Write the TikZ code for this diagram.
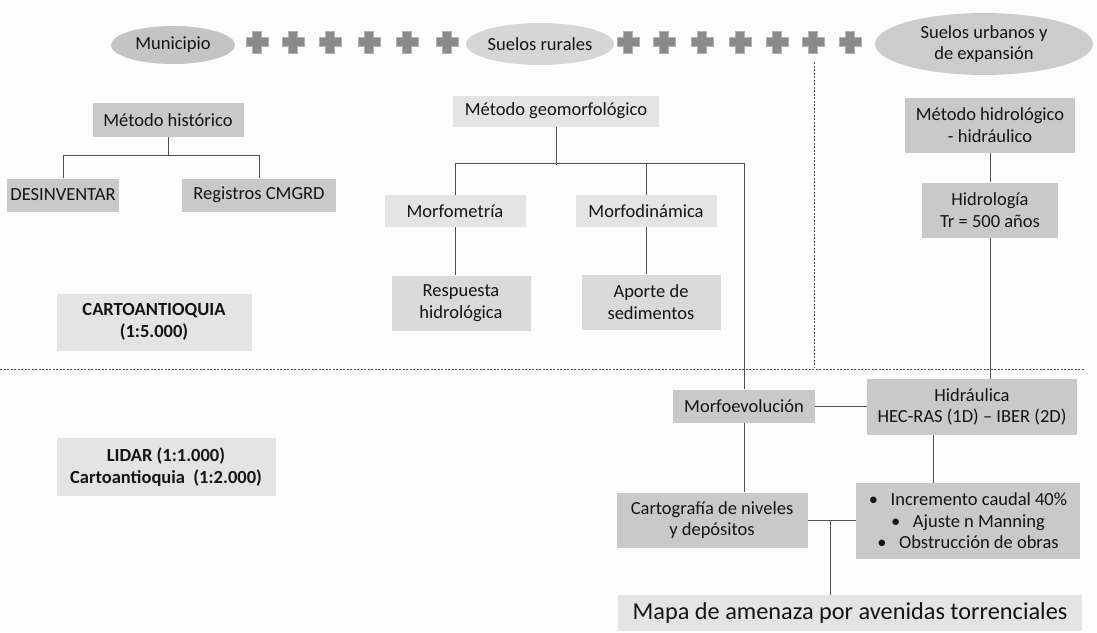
\documentclass[tikz,border=0pt]{standalone}
\usepackage{fontspec}
\setmainfont{Carlito}
\usetikzlibrary{shapes.geometric,calc}
\definecolor{bgc}{RGB}{253,253,253}
\definecolor{dbox}{RGB}{201,201,201}
\definecolor{lbox}{RGB}{228,228,228}
\definecolor{mbox}{RGB}{218,218,218}
\definecolor{ell1}{RGB}{196,196,196}
\definecolor{ell2}{RGB}{214,214,214}
\definecolor{ell3}{RGB}{204,204,204}
\definecolor{plusfill}{RGB}{138,138,138}
\definecolor{plusedge}{RGB}{178,178,178}
\definecolor{linec}{RGB}{80,80,80}
\definecolor{txt}{RGB}{20,20,20}
\tikzset{
  base/.style={inner sep=0pt, align=center, text=txt, font=\fontsize{18.5}{21.5}\selectfont},
  darkbox/.style={base, fill=dbox},
  lightbox/.style={base, fill=lbox},
  midbox/.style={base, fill=mbox},
  oval/.style={base, ellipse},
  conn/.style={draw=linec, line width=1pt},
  sep/.style={draw=linec, line width=0.8pt, dash pattern=on 2pt off 1.5pt},
}
\begin{document}
\begin{tikzpicture}[x=1pt,y=-1pt]
\fill[bgc] (0,0) rectangle (1097,632);
\useasboundingbox (0,0) rectangle (1097,632);

% separators
\draw[sep] (0,369) -- (1085,369);
\draw[sep] (814,62) -- (814,367);

% top ovals
\node[oval, fill=ell1, minimum width=124pt, minimum height=38pt] (mun) at (173,45) {Municipio};
\node[oval, fill=ell2, minimum width=126pt, minimum height=42pt] (rur) at (540,44) {Suelos rurales};
\node[oval, fill=ell3, minimum width=218pt, minimum height=62pt] (urb) at (984,44) {Suelos urbanos y\\de expansión};

% plus signs
\foreach \cx in {257,293,330,369,407,447,628,664,702,740,777,813,850}{
  \filldraw[fill=plusfill, draw=plusedge, line width=1pt]
    (\cx-4.5,31) -- (\cx+4.5,31) -- (\cx+4.5,37.5) -- (\cx+11,37.5) -- (\cx+11,46.5) -- (\cx+4.5,46.5)
    -- (\cx+4.5,53) -- (\cx-4.5,53) -- (\cx-4.5,46.5) -- (\cx-11,46.5) -- (\cx-11,37.5) -- (\cx-4.5,37.5) -- cycle;
}

% historic method
\node[darkbox, minimum width=151pt, minimum height=34pt] (hist) at (168,120) {Método histórico};
\node[darkbox, minimum width=112pt, minimum height=33pt] (desi) at (63,195) {DESINVENTAR};
\node[darkbox, minimum width=154pt, minimum height=33pt] (reg) at (259,195) {Registros CMGRD};
\node[lightbox, minimum width=195pt, minimum height=57pt, font=\fontsize{18.5}{21.5}\selectfont\bfseries] (carto) at (154,322) {CARTOANTIOQUIA\\(1:5.000)};
\node[lightbox, minimum width=219pt, minimum height=58pt, font=\fontsize{18.5}{21.5}\selectfont\bfseries] (lidar) at (166,467) {LIDAR (1:1.000)\\Cartoantioquia~~(1:2.000)};

\draw[conn] (hist.south) -- ++(0,18);
\draw[conn] (desi.north) -- ++(0,-23) -| (reg.north);

% geomorphological method
\node[lightbox, minimum width=206pt, minimum height=31pt] (geo) at (556,111) {Método geomorfológico};
\node[lightbox, minimum width=141pt, minimum height=32pt] (mfm) at (455,211) {Morfometría};
\node[lightbox, minimum width=141pt, minimum height=32pt] (mfd) at (646,211) {Morfodinámica};
\node[midbox, minimum width=139pt, minimum height=55pt] (resp) at (461,303) {Respuesta\\hidrológica};
\node[midbox, minimum width=139pt, minimum height=55pt] (apo) at (651,302) {Aporte de\\sedimentos};
\node[darkbox, minimum width=142pt, minimum height=33pt] (mev) at (744,406) {Morfoevolución};
\node[darkbox, minimum width=191pt, minimum height=55pt] (cart) at (712,520) {Cartografía de niveles\\y depósitos};

\draw[conn] (geo.south) -- ++(0,38);
\draw[conn] (mfm.north) -- ++(0,-31) -| (mev.north);
\draw[conn] (mfd.north) -- ++(0,-31);
\draw[conn] (mfm.south) -- (mfm.south |- resp.north);
\draw[conn] (mfd.south) -- (mfd.south |- apo.north);
\draw[conn] (mev.south) -- (mev.south |- cart.north);

% hydrological method
\node[darkbox, minimum width=170pt, minimum height=55pt] (mhid) at (990,125) {Método hidrológico\\- hidráulico};
\node[darkbox, minimum width=136pt, minimum height=55pt] (hidr) at (990,210) {Hidrología\\Tr = 500 años};
\node[darkbox, minimum width=210pt, minimum height=56pt] (hidra) at (972,407) {Hidráulica\\HEC-RAS (1D) – IBER (2D)};
\node[darkbox, minimum width=224pt, minimum height=76pt] (bul) at (968,521) {\textbullet~~~Incremento caudal 40\%\\\textbullet~~~Ajuste n Manning\\\textbullet~~~Obstrucción de obras};

\draw[conn] (mhid.south) -- (hidr.north);
\draw[conn] (hidr.south) -- (hidr.south |- hidra.north);
\draw[conn] (mev.east) -- (mev.east -| hidra.west);
\draw[conn] ([xshift=-39pt]hidra.south) -- ([xshift=-39pt]hidra.south |- bul.north);

% final map
\node[lightbox, minimum width=464pt, minimum height=36pt, font=\fontsize{24.3}{28}\selectfont] (mapa) at (850,613) {Mapa de amenaza por avenidas torrenciales};

\draw[conn] (cart.east) -- (cart.east -| bul.west);
\coordinate (cj) at ($(cart.east)!0.48!(cart.east -| bul.west)$);
\draw[conn] (cj) -- (cj |- mapa.north);
\end{tikzpicture}
\end{document}
